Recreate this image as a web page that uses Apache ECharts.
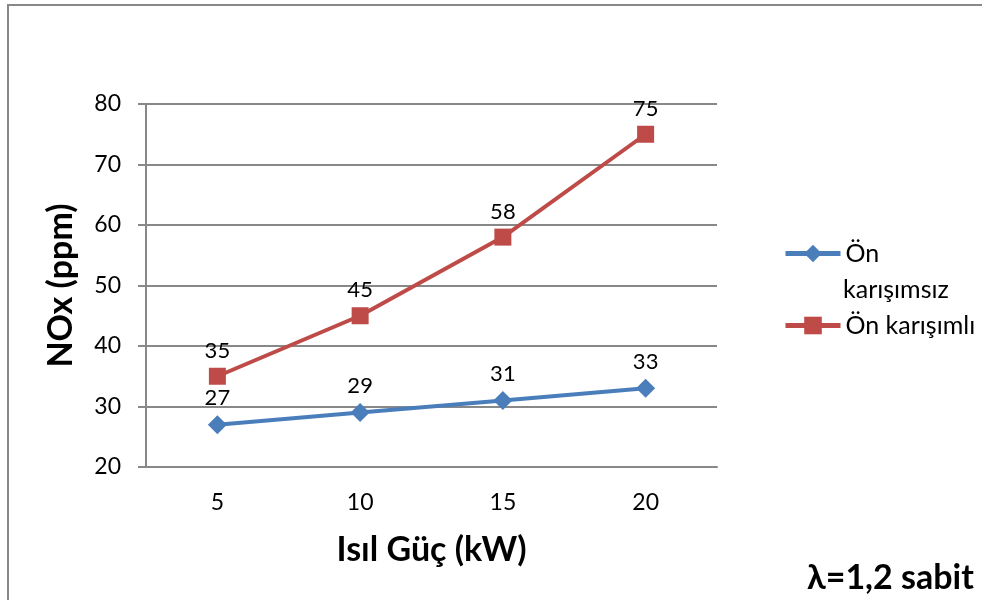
<!DOCTYPE html>
<html>
<head>
<meta charset="utf-8">
<script src="https://cdn.jsdelivr.net/npm/echarts@6/dist/echarts.min.js"></script>
<style>html,body{margin:0;padding:0;background:#fff}#c{width:982px;height:600px}</style>
</head>
<body>
<div id="c"></div>
<script>
const categories = ['5', '10', '15', '20'];
const onKarisimsiz = [27, 29, 31, 33];
const onKarisimli = [35, 45, 58, 75];
const seriesNames = ['Ön karışımsız', 'Ön karışımlı'];
const yTicks = { min: 20, max: 80, interval: 10 };

const FONT = 'Lato, "Open Sans", sans-serif';
const chart = echarts.init(document.getElementById('c'), null, { renderer: 'canvas' });
const labelStyle = { show: true, position: 'top', distance: 6, color: '#000', fontSize: 22, fontFamily: FONT };
chart.setOption({
  animation: false,
  backgroundColor: '#fff',
  grid: { left: 146, right: 265, top: 104, bottom: 133, containLabel: false },
  xAxis: {
    type: 'category', data: categories, boundaryGap: true,
    name: 'Isıl Güç (kW)', nameLocation: 'middle', nameGap: 66,
    nameTextStyle: { fontSize: 34, fontWeight: 'bold', color: '#000', fontFamily: FONT },
    axisLine: { lineStyle: { color: '#888', width: 2 } },
    axisTick: { show: false },
    axisLabel: { margin: 24, fontSize: 23, color: '#000', fontFamily: FONT }
  },
  yAxis: {
    type: 'value', min: yTicks.min, max: yTicks.max, interval: yTicks.interval,
    name: 'NOx (ppm)', nameLocation: 'middle', nameGap: 68,
    nameTextStyle: { fontSize: 34, fontWeight: 'bold', color: '#000', fontFamily: FONT },
    axisLine: { show: true, lineStyle: { color: '#888', width: 2 } },
    axisTick: { show: true, length: 8, lineStyle: { color: '#888', width: 2 } },
    axisLabel: { margin: 25, fontSize: 23, color: '#000', fontFamily: FONT },
    splitLine: { lineStyle: { color: '#888', width: 2 } }
  },
  legend: [
    {
      data: [seriesNames[0]], orient: 'vertical', left: 778, top: 236,
      itemWidth: 55, itemHeight: 22, itemGap: 0,
      formatter: n => 'Ön',
      lineStyle: { width: 5 },
      textStyle: { fontSize: 25, color: '#000', fontFamily: FONT }
    },
    {
      data: [seriesNames[1]], orient: 'vertical', left: 778, top: 308,
      itemWidth: 55, itemHeight: 22,
      lineStyle: { width: 5 },
      textStyle: { fontSize: 25, color: '#000', fontFamily: FONT }
    }
  ],
  graphic: [
    { type: 'rect', shape: { x: 8, y: 5, width: 1000, height: 700 }, style: { fill: 'none', stroke: '#888', lineWidth: 2 }, silent: true },
    { type: 'text', left: 843, top: 277, style: { text: 'karışımsız', fontSize: 25, fill: '#000', fontFamily: FONT } },
    { type: 'text', left: 807, top: 561, style: { text: 'λ=1,2 sabit', fontSize: 34, fontWeight: 'bold', fill: '#000', fontFamily: FONT } }
  ],
  series: [
    {
      name: seriesNames[0], type: 'line', data: onKarisimsiz,
      symbol: 'diamond', symbolSize: 19,
      itemStyle: { color: '#4A7EBB' }, lineStyle: { color: '#4A7EBB', width: 4 },
      label: labelStyle
    },
    {
      name: seriesNames[1], type: 'line', data: onKarisimli,
      symbol: 'rect', symbolSize: 17,
      itemStyle: { color: '#BE4B48' }, lineStyle: { color: '#BE4B48', width: 4 },
      label: labelStyle
    }
  ]
});
</script>
</body>
</html>
